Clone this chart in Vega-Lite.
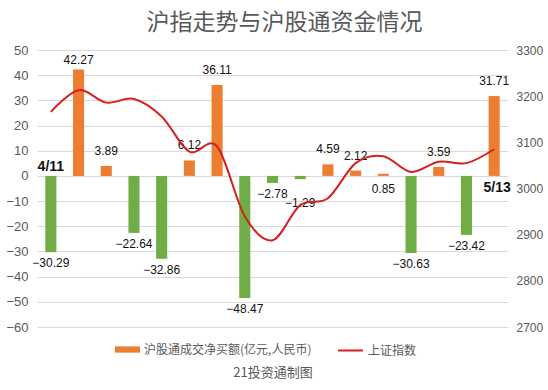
{
  "$schema": "https://vega.github.io/schema/vega-lite/v6.json",
  "width": 471,
  "height": 277,
  "autosize": {"type": "none"},
  "padding": {"left": 37, "top": 50, "right": 40, "bottom": 63},
  "background": "white",
  "config": {"view": {"stroke": null}, "font": "Liberation Sans, Noto Sans CJK SC"},
  "title": {"text": "沪指走势与沪股通资金情况", "font": "Noto Sans CJK SC", "fontSize": 23, "fontWeight": "normal", "color": "#595959", "offset": 9, "dx": 12},
  "data": {"values": [
    {"day": 1, "net": -30.29, "idx": 3166, "date": "4/11", "series": "沪股通成交净买额(亿元,人民币)", "series2": "上证指数"},
    {"day": 2, "net": 42.27, "idx": 3213, "date": "", "series": "沪股通成交净买额(亿元,人民币)", "series2": "上证指数"},
    {"day": 3, "net": 3.89, "idx": 3186, "date": "", "series": "沪股通成交净买额(亿元,人民币)", "series2": "上证指数"},
    {"day": 4, "net": -22.64, "idx": 3194, "date": "", "series": "沪股通成交净买额(亿元,人民币)", "series2": "上证指数"},
    {"day": 5, "net": -32.86, "idx": 3156, "date": "", "series": "沪股通成交净买额(亿元,人民币)", "series2": "上证指数"},
    {"day": 6, "net": 6.12, "idx": 3080, "date": "", "series": "沪股通成交净买额(亿元,人民币)", "series2": "上证指数"},
    {"day": 7, "net": 36.11, "idx": 3091, "date": "", "series": "沪股通成交净买额(亿元,人民币)", "series2": "上证指数"},
    {"day": 8, "net": -48.47, "idx": 2940, "date": "", "series": "沪股通成交净买额(亿元,人民币)", "series2": "上证指数"},
    {"day": 9, "net": -2.78, "idx": 2888, "date": "", "series": "沪股通成交净买额(亿元,人民币)", "series2": "上证指数"},
    {"day": 10, "net": -1.29, "idx": 2964, "date": "", "series": "沪股通成交净买额(亿元,人民币)", "series2": "上证指数"},
    {"day": 11, "net": 4.59, "idx": 2979, "date": "", "series": "沪股通成交净买额(亿元,人民币)", "series2": "上证指数"},
    {"day": 12, "net": 2.12, "idx": 3055, "date": "", "series": "沪股通成交净买额(亿元,人民币)", "series2": "上证指数"},
    {"day": 13, "net": 0.85, "idx": 3070, "date": "", "series": "沪股通成交净买额(亿元,人民币)", "series2": "上证指数"},
    {"day": 14, "net": -30.63, "idx": 3036, "date": "", "series": "沪股通成交净买额(亿元,人民币)", "series2": "上证指数"},
    {"day": 15, "net": 3.59, "idx": 3058, "date": "", "series": "沪股通成交净买额(亿元,人民币)", "series2": "上证指数"},
    {"day": 16, "net": -23.42, "idx": 3055, "date": "", "series": "沪股通成交净买额(亿元,人民币)", "series2": "上证指数"},
    {"day": 17, "net": 31.71, "idx": 3085, "date": "5/13", "series": "沪股通成交净买额(亿元,人民币)", "series2": "上证指数"}
  ]},
  "encoding": {
    "x": {"field": "day", "type": "ordinal", "scale": {"paddingInner": 0.6, "paddingOuter": 0.3},
      "axis": {"labels": false, "ticks": false, "domain": false, "grid": false, "title": "21投资通制图", "titleFont": "Noto Sans CJK SC", "titleFontSize": 13, "titleFontWeight": "normal", "titleColor": "#595959", "titlePadding": 39}}
  },
  "layer": [
    {
      "encoding": {
        "y": {"field": "net", "type": "quantitative", "scale": {"domain": [-60, 50], "nice": false},
          "axis": {"title": null, "domain": false, "ticks": false, "labelPadding": 9, "labelFontSize": 13, "labelColor": "#595959", "gridColor": "#D9D9D9", "values": [-60, -50, -40, -30, -20, -10, 0, 10, 20, 30, 40, 50]}}
      },
      "layer": [
        {
          "mark": {"type": "bar"},
          "encoding": {
            "color": {"condition": {"test": "datum.net < 0", "value": "#70AD47"}, "field": "series", "type": "nominal", "scale": {"range": ["#ED7D31"]},
              "legend": {"title": null, "orient": "none", "legendX": 78, "legendY": 287, "symbolType": "M-1,-0.25H1V0.25H-1Z", "symbolSize": 625, "symbolStrokeWidth": 0, "labelFont": "Noto Sans CJK SC", "labelFontSize": 12, "labelColor": "#595959", "labelLimit": 300, "padding": 0}}
          }
        },
        {
          "transform": [{"filter": "datum.net >= 0 && datum.day != 13 && datum.day != 2"}],
          "mark": {"type": "text", "baseline": "bottom", "dy": -8, "fontSize": 12, "color": "#111"},
          "encoding": {"text": {"field": "net", "type": "quantitative", "format": ".2f"}}
        },
        {
          "transform": [{"filter": "datum.day == 2"}],
          "mark": {"type": "text", "baseline": "bottom", "dy": -2, "fontSize": 12, "color": "#111"},
          "encoding": {"text": {"field": "net", "type": "quantitative", "format": ".2f"}}
        },
        {
          "transform": [{"filter": "datum.day == 13"}],
          "mark": {"type": "text", "baseline": "top", "dy": 10, "fontSize": 12, "color": "#111"},
          "encoding": {"text": {"field": "net", "type": "quantitative", "format": ".2f"}}
        },
        {
          "transform": [{"filter": "datum.net < 0 && datum.day != 10"}],
          "mark": {"type": "text", "baseline": "top", "dy": 6, "fontSize": 12, "color": "#111"},
          "encoding": {"text": {"field": "net", "type": "quantitative", "format": ".2f"}}
        },
        {
          "transform": [{"filter": "datum.day == 10"}],
          "mark": {"type": "text", "baseline": "top", "dy": 19, "fontSize": 12, "color": "#111"},
          "encoding": {"text": {"field": "net", "type": "quantitative", "format": ".2f"}}
        },
        {
          "transform": [{"filter": "datum.date == '4/11'"}],
          "mark": {"type": "text", "baseline": "middle", "dy": -9, "fontSize": 14, "fontWeight": "bold", "color": "#111"},
          "encoding": {"y": {"datum": 0}, "text": {"field": "date"}}
        },
        {
          "transform": [{"filter": "datum.date == '5/13'"}],
          "mark": {"type": "text", "baseline": "middle", "dy": 12, "dx": 3, "fontSize": 14, "fontWeight": "bold", "color": "#111"},
          "encoding": {"y": {"datum": 0}, "text": {"field": "date"}}
        }
      ]
    },
    {
      "mark": {"type": "line", "interpolate": "cardinal", "strokeWidth": 2},
      "encoding": {
        "y": {"field": "idx", "type": "quantitative", "scale": {"domain": [2700, 3300], "nice": false},
          "axis": {"orient": "right", "title": null, "grid": false, "domain": false, "ticks": false, "labelPadding": 8, "labelFontSize": 12, "labelColor": "#595959", "format": "d", "values": [2700, 2800, 2900, 3000, 3100, 3200, 3300]}},
        "stroke": {"field": "series2", "type": "nominal", "scale": {"range": ["#D42020"]},
          "legend": {"title": null, "orient": "none", "legendX": 300, "legendY": 287, "symbolType": "stroke", "symbolSize": 625, "symbolStrokeWidth": 2, "labelFont": "Noto Sans CJK SC", "labelFontSize": 12, "labelColor": "#595959", "padding": 0}}
      }
    }
  ],
  "resolve": {"scale": {"y": "independent"}}
}
